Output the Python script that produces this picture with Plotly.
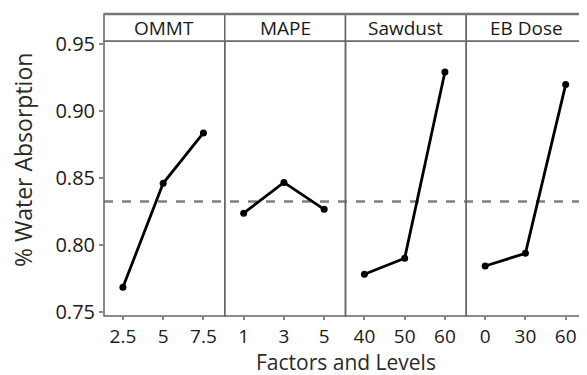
import plotly.graph_objects as go
import numpy as np

factors = ["OMMT", "MAPE", "Sawdust", "EB Dose"]
levels = [["2.5", "5", "7.5"], ["1", "3", "5"], ["40", "50", "60"], ["0", "30", "60"]]
ommt_vals = [0.7684, 0.8460, 0.8836]
mape_vals = [0.8237, 0.8467, 0.8266]
sawdust_vals = [0.7781, 0.7901, 0.9291]
ebdose_vals = [0.7843, 0.7938, 0.9197]
series = [ommt_vals, mape_vals, sawdust_vals, ebdose_vals]
grand_mean = float(np.mean(ommt_vals + mape_vals + sawdust_vals + ebdose_vals))

y_ticks = [0.75, 0.80, 0.85, 0.90, 0.95]
y_ticktext = ["0.75", "0.80", "0.85", "0.90", "0.95"]

# the page body has an 8px margin, so the figure is drawn 8px in
OFF = 8
W, H = 587 - OFF, 375 - OFF
ml, mr, mt, mb = 104 - OFF, 0, 41 - OFF, 59
pw = W - ml - mr
ph = H - mt - mb


def px_x(x):  # page pixel -> paper x
    return (x - OFF - ml) / pw


def px_y(y):  # page pixel -> paper y
    return 1 - (y - OFF - mt) / ph


FONT = "Open Sans"
TXT = "#1a1a1a"
n = len(factors)
fig = go.Figure()
layout = dict(
    width=W, height=H,
    margin=dict(l=ml, r=mr, t=mt, b=mb, autoexpand=False),
    plot_bgcolor="white", paper_bgcolor="white",
    showlegend=False,
    font=dict(family=FONT, color=TXT),
)
shapes = []
annotations = []
strip_top = px_y(14)
for i in range(n):
    d0 = i / n
    d1 = (i + 1) / n
    xa = "xaxis" if i == 0 else f"xaxis{i+1}"
    xref = "x" if i == 0 else f"x{i+1}"
    layout[xa] = dict(
        domain=[d0, d1], type="category", categoryorder="array",
        categoryarray=levels[i], range=[-0.47, 2.53],
        showgrid=False, zeroline=False, showline=False,
        ticks="outside", ticklen=3, tickwidth=2, tickcolor="#888888",
        tickfont=dict(size=19, family=FONT, color=TXT),
        anchor="y", fixedrange=True, automargin=False,
    )
    fig.add_trace(go.Scatter(
        x=levels[i], y=series[i], xaxis=xref, yaxis="y",
        mode="lines+markers",
        line=dict(color="black", width=2.8),
        marker=dict(color="black", size=7),
        cliponaxis=False,
    ))
    shapes.append(dict(type="rect", xref="paper", yref="paper",
                       x0=d0, x1=d1, y0=0, y1=1,
                       line=dict(color="#666666", width=1.5), layer="above"))
    shapes.append(dict(type="rect", xref="paper", yref="paper",
                       x0=d0, x1=d1, y0=1, y1=strip_top,
                       line=dict(color="#666666", width=1.5),
                       fillcolor="white", layer="above"))
    annotations.append(dict(text=factors[i], xref="paper", yref="paper",
                            x=(d0 + d1) / 2, y=(1 + strip_top) / 2,
                            showarrow=False, xanchor="center", yanchor="middle",
                            font=dict(size=19, family=FONT, color=TXT)))

shapes.append(dict(type="line", xref="paper", yref="paper", x0=0, x1=1,
                   y0=strip_top, y1=strip_top,
                   line=dict(color="#777777", width=2.5), layer="above"))
shapes.append(dict(type="line", xref="paper", yref="y", x0=0, x1=1,
                   y0=grand_mean, y1=grand_mean,
                   line=dict(color="#808080", width=2.5, dash="dash"), layer="below"))

layout["yaxis"] = dict(
    range=[0.747, 0.9522], tickvals=y_ticks, ticktext=y_ticktext,
    showgrid=False, zeroline=False, showline=False,
    ticks="outside", ticklen=4, tickwidth=2, tickcolor="#888888",
    tickfont=dict(size=20, family=FONT, color=TXT),
    anchor="x", fixedrange=True, automargin=False,
)
annotations.append(dict(text="Factors and Levels", xref="paper", yref="paper",
                        x=px_x(346), y=px_y(361.5),
                        showarrow=False, xanchor="center", yanchor="middle",
                        borderpad=0,
                        font=dict(size=21, family=FONT, color="#2a2a2a")))
annotations.append(dict(text="% Water Absorption", xref="paper", yref="paper",
                        x=px_x(23), y=px_y(160),
                        textangle=-90, showarrow=False,
                        xanchor="center", yanchor="middle",
                        font=dict(size=23, family=FONT, color="#2a2a2a")))
layout["shapes"] = shapes
layout["annotations"] = annotations
fig.update_layout(**layout)
fig.write_html("out.html")
